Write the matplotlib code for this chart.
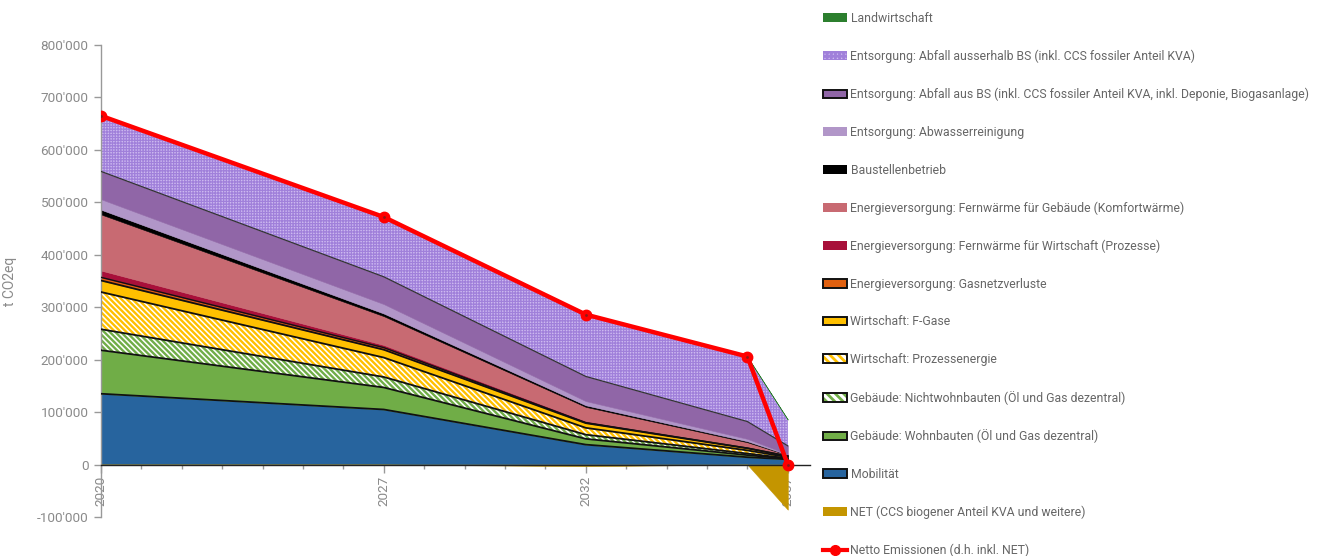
import matplotlib
matplotlib.use('Agg')
import matplotlib.pyplot as plt
import numpy as np
from matplotlib.patches import Patch
from matplotlib.lines import Line2D
from matplotlib.legend_handler import HandlerTuple
from matplotlib.ticker import FuncFormatter, FixedLocator

plt.rcParams['font.family'] = ['Roboto', 'DejaVu Sans']
plt.rcParams['hatch.linewidth'] = 2.0

# ---------------- data (t CO2eq) ----------------
years = [2020, 2027, 2032, 2036, 2037]
tick_years = [2020, 2027, 2032, 2037]

mobilitaet = [135000, 105000, 38000, 14000, 10000]
wohnbauten = [83000, 42000, 11000, 4000, 1000]
nichtwohnbauten = [40000, 20000, 8000, 3000, 1000]
prozessenergie = [71000, 37000, 13000, 6000, 2000]
f_gase = [22000, 15000, 9000, 4000, 2000]
gasnetzverluste = [6000, 4000, 1000, 500, 200]
fw_wirtschaft = [13000, 5000, 3000, 1000, 500]
fw_gebaeude = [107000, 55000, 27000, 10000, 1500]
baustellen = [9000, 5000, 3000, 2000, 500]
abwasser = [20000, 18000, 8000, 4500, 1000]
abfall_bs = [53000, 52000, 47000, 33000, 16000]
abfall_ausserhalb = [105000, 113000, 120000, 123000, 50000]
landwirtschaft = [1000, 1000, 1000, 1000, 300]
net_values = [0, 0, -3000, 0, -86000]

labels = [
    "Mobilität",
    "Gebäude: Wohnbauten (Öl und Gas dezentral)",
    "Gebäude: Nichtwohnbauten (Öl und Gas dezentral)",
    "Wirtschaft: Prozessenergie",
    "Wirtschaft: F-Gase",
    "Energieversorgung: Gasnetzverluste",
    "Energieversorgung: Fernwärme für Wirtschaft (Prozesse)",
    "Energieversorgung: Fernwärme für Gebäude (Komfortwärme)",
    "Baustellenbetrieb",
    "Entsorgung: Abwasserreinigung",
    "Entsorgung: Abfall aus BS (inkl. CCS fossiler Anteil KVA, inkl. Deponie, Biogasanlage)",
    "Entsorgung: Abfall ausserhalb BS (inkl. CCS fossiler Anteil KVA)",
    "Landwirtschaft",
]
series = [mobilitaet, wohnbauten, nichtwohnbauten, prozessenergie, f_gase,
          gasnetzverluste, fw_wirtschaft, fw_gebaeude, baustellen, abwasser,
          abfall_bs, abfall_ausserhalb, landwirtschaft]
net_label = "NET (CCS biogener Anteil KVA und weitere)"
netto_label = "Netto Emissionen (d.h. inkl. NET)"

# style: (face, hatch, hatch colour, hatch lw, outline colour, outline width)
styles = [
    ("#27649E", None, None, 0, "#111111", 1.3),
    ("#70AD47", None, None, 0, "#111111", 1.3),
    ("white", "\\\\\\\\\\\\", "#70AD47", 1.7, "#111111", 1.3),
    ("white", "\\\\\\\\\\\\", "#FFC000", 1.7, "#111111", 1.3),
    ("#FFC000", None, None, 0, "#111111", 1.3),
    ("#E0600F", None, None, 0, "#111111", 1.0),
    ("#A8103A", None, None, 0, None, 0),
    ("#C86A72", None, None, 0, None, 0),
    ("#000000", None, None, 0, None, 0),
    ("#B196C8", None, None, 0, None, 0),
    ("#9066A7", None, None, 0, "#333333", 0.9),
    ("#CDB9F0", "++++++", "#A080DA", 0.9, None, 0),
    ("#2C7F2E", None, None, 0, None, 0),
]
net_color = "#C49500"


def set_hlw(artist, lw):
    if hasattr(artist, "set_hatch_linewidth"):
        try:
            artist.set_hatch_linewidth(lw)
        except Exception:
            pass


# ---------------- figure ----------------
W, H = 1326, 556
fig = plt.figure(figsize=(W / 100, H / 100), dpi=100)
ax = fig.add_axes([101 / W, 39 / H, (810 - 101) / W, (517 - 45) / H])

x = np.array(years, dtype=float)
base = np.zeros(len(years))
top_lines = []
for vals, (face, hatch, hcol, hlw, ecol, elw) in zip(series, styles):
    top = base + np.array(vals, dtype=float)
    if hatch:
        with plt.rc_context({'hatch.linewidth': hlw}):
            pc = ax.fill_between(x, base, top, facecolor=face, edgecolor=hcol,
                                 hatch=hatch, linewidth=0, zorder=2)
        set_hlw(pc, hlw)
    else:
        ax.fill_between(x, base, top, facecolor=face, edgecolor=face,
                        linewidth=0.4, zorder=2)
    if ecol:
        top_lines.append((top.copy(), ecol, elw))
    base = top
for top, ecol, elw in top_lines:
    ax.plot(x, top, color=ecol, linewidth=elw, zorder=3)

# NET (negative)
ax.fill_between(x, 0, np.array(net_values, dtype=float), facecolor=net_color,
                edgecolor=net_color, linewidth=0.4, zorder=2)

# Netto line
netto = np.sum(np.array(series, dtype=float), axis=0) + np.array(net_values, dtype=float)
ax.plot(x, netto, color="#FF0000", linewidth=3.2, marker="o", markersize=7.5,
        markerfacecolor="#FF0000", markeredgecolor="#FF0000", zorder=5)
ax.plot(x, netto, linestyle="none", marker="o", markersize=2,
        markerfacecolor="#8B1A1A", markeredgecolor="none", zorder=6)

# ---------------- axes styling ----------------
ax.set_xlim(2020, 2037.55)
ax.set_ylim(-100000, 800000)
for s in ("top", "right"):
    ax.spines[s].set_visible(False)
ax.spines["left"].set_color("#999999")
ax.spines["left"].set_linewidth(1.0)
ax.spines["bottom"].set_position(("data", 0))
ax.spines["bottom"].set_color("#222222")
ax.spines["bottom"].set_linewidth(1.0)
ax.spines["bottom"].set_zorder(4)

ax.yaxis.set_major_locator(FixedLocator(np.arange(-100000, 800001, 100000)))
ax.yaxis.set_major_formatter(FuncFormatter(lambda v, p: f"{int(round(v)):,}".replace(",", "'")))
ax.tick_params(axis="y", colors="#999999", labelcolor="#8a8a8a", labelsize=9.7,
               length=5, width=1, pad=4)

ax.xaxis.set_major_locator(FixedLocator(tick_years))
ax.xaxis.set_minor_locator(FixedLocator(np.arange(2020, 2038, 1)))
ax.xaxis.set_major_formatter(FuncFormatter(lambda v, p: f"{int(v)}"))
ax.tick_params(axis="x", which="major", colors="#999999", labelcolor="#8a8a8a",
               labelsize=9.7, length=6, width=1, labelrotation=90, pad=2)
ax.tick_params(axis="x", which="minor", colors="#999999", length=3, width=1)

ax.set_ylabel("t CO2eq", color="#8a8a8a", fontsize=10, labelpad=14)

# ---------------- legend ----------------
leg_handles = []
leg_labels = []
order = list(range(len(series) - 1, -1, -1))
for i in order:
    face, hatch, hcol, hlw, ecol, elw = styles[i]
    if hatch:
        with plt.rc_context({'hatch.linewidth': min(hlw, 1.5)}):
            bg = Patch(facecolor=face, edgecolor=hcol, hatch=hatch[:4], linewidth=0)
        set_hlw(bg, min(hlw, 1.5))
        if ecol:
            h = (bg, Patch(fill=False, edgecolor="#111111", linewidth=1.4))
        else:
            h = bg
    else:
        if ecol:
            h = Patch(facecolor=face, edgecolor="#111111", linewidth=1.4)
        else:
            h = Patch(facecolor=face, edgecolor=face, linewidth=0)
    leg_handles.append(h)
    leg_labels.append(labels[i])
leg_handles.append(Patch(facecolor=net_color, edgecolor=net_color, linewidth=0))
leg_labels.append(net_label)
leg_handles.append(Line2D([0], [0], color="#FF0000", linewidth=3, marker="o",
                          markersize=7, markerfacecolor="#FF0000"))
leg_labels.append(netto_label)

leg = fig.legend(leg_handles, leg_labels, loc="upper left",
                 bbox_to_anchor=(823 / W, 1 - 12 / H), frameon=False,
                 fontsize=8.8, labelspacing=2.02, handlelength=2.0,
                 handleheight=0.75, handletextpad=0.25, borderaxespad=0,
                 borderpad=0, handler_map={tuple: HandlerTuple(ndivide=1, pad=0)})
for t in leg.get_texts():
    t.set_color("#666666")

fig.savefig("out.png", dpi=100)
